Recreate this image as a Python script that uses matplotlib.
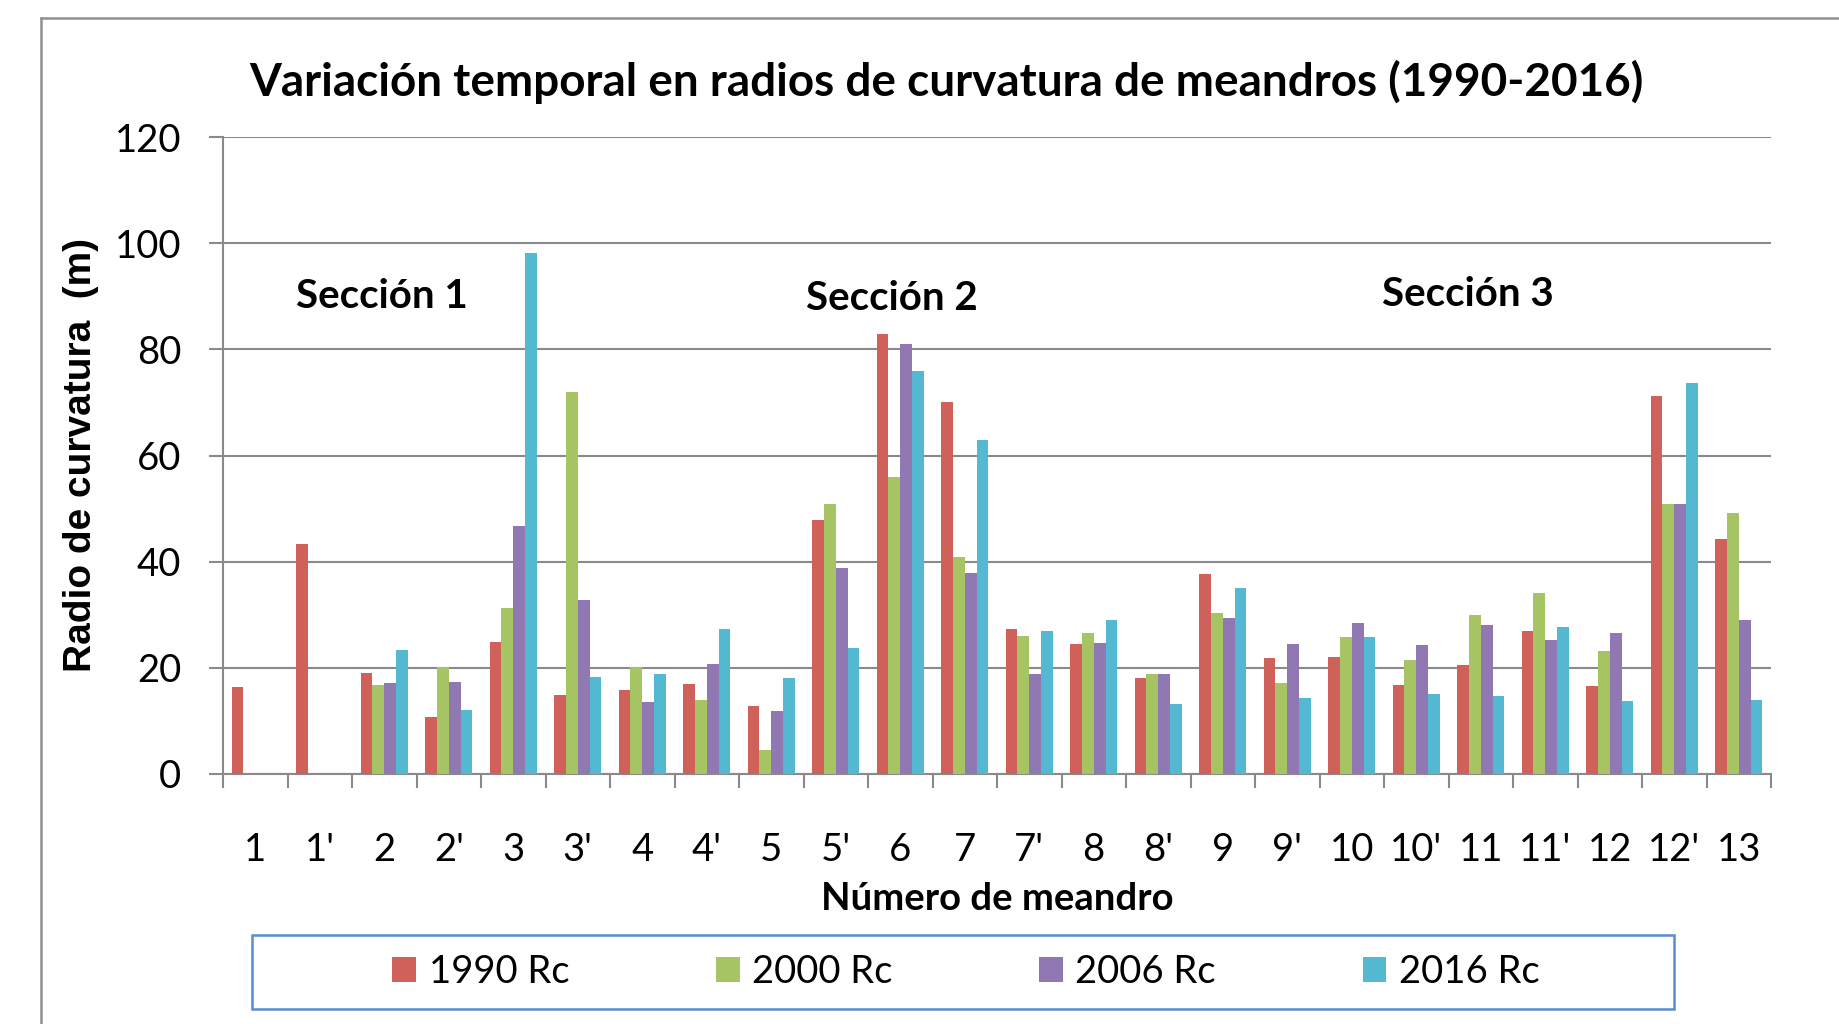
import numpy as np
import matplotlib
matplotlib.use("Agg")
import matplotlib.pyplot as plt
from matplotlib.lines import Line2D
from matplotlib.patches import Rectangle, Patch

plt.rcParams['font.family'] = ['Lato', 'DejaVu Sans']

categories = ['1', "1'", '2', "2'", '3', "3'", '4', "4'", '5', "5'", '6', '7', "7'",
              '8', "8'", '9', "9'", '10', "10'", '11', "11'", '12', "12'", '13']
nan = np.nan
rc1990 = [16.3, 43.4, 19.0, 10.7, 24.9, 14.8, 15.8, 16.9, 12.8, 47.9, 82.9, 70.1, 27.4,
          24.4, 18.1, 37.6, 21.9, 22.1, 16.8, 20.6, 26.9, 16.5, 71.3, 44.3]
rc2000 = [nan, nan, 16.7, 20.2, 31.2, 71.9, 20.2, 14.0, 4.5, 50.9, 55.9, 40.9, 26.0,
          26.6, 18.9, 30.4, 17.2, 25.9, 21.4, 29.9, 34.1, 23.2, 50.9, 49.2]
rc2006 = [nan, nan, 17.2, 17.4, 46.7, 32.7, 13.5, 20.8, 11.8, 38.9, 81.0, 37.8, 18.9,
          24.6, 18.9, 29.4, 24.4, 28.5, 24.3, 28.1, 25.3, 26.5, 50.9, 29.0]
rc2016 = [nan, nan, 23.4, 12.1, 98.1, 18.3, 18.9, 27.3, 18.1, 23.8, 76.0, 62.9, 26.9,
          29.1, 13.1, 35.1, 14.4, 25.9, 15.1, 14.6, 27.7, 13.7, 73.6, 14.0]
series_names = ['1990 Rc', '2000 Rc', '2006 Rc', '2016 Rc']
series_values = [rc1990, rc2000, rc2006, rc2016]
colors = ['#D0605A', '#A6C463', '#9079B3', '#55B8D2']
yticks = [0, 20, 40, 60, 80, 100, 120]
sections = ['Sección 1', 'Sección 2', 'Sección 3']
section_pos = [(1.97, 90), (9.87, 89.5), (18.8, 90.3)]

W, H = 1839, 1024
fig = plt.figure(figsize=(W / 100, H / 100), dpi=100)
ax = fig.add_axes([223 / W, 1 - 774 / H, (1771 - 223) / W, (774 - 137) / H])

grid_c = '#8a8a8a'
n = len(categories)
x = np.arange(n)
bw = 0.183
for i, (name, vals, c) in enumerate(zip(series_names, series_values, colors)):
    ax.bar(x + (i - 1.5) * bw, vals, width=bw, color=c, label=name, zorder=3)

ax.set_xlim(-0.5, n - 0.5)
ax.set_ylim(0, 120)
ax.set_yticks(yticks)
ax.set_yticklabels([str(v) for v in yticks])
ax.yaxis.grid(True, color=grid_c, linewidth=1.5, zorder=0)
ax.set_axisbelow(True)
for s in ['top', 'right']:
    ax.spines[s].set_visible(False)
for s in ['left', 'bottom']:
    ax.spines[s].set_color(grid_c)
    ax.spines[s].set_linewidth(1.5)

ax.set_xticks(np.arange(-0.5, n, 1.0))
ax.set_xticklabels([])
ax.set_xticks(x, minor=True)
ax.set_xticklabels(categories, minor=True)
ax.tick_params(axis='x', which='major', length=10, width=1.5, color=grid_c)
ax.tick_params(axis='x', which='minor', length=0, pad=42, labelsize=27.5)
ax.tick_params(axis='y', length=10, width=1.5, color=grid_c, pad=20, labelsize=27.5)

ax.set_xlabel('Número de meandro', fontsize=27.5, fontweight='bold', labelpad=10)
ax.set_ylabel('Radio de curvatura  (m)', fontsize=28, fontweight='bold',
              family=['Liberation Sans', 'DejaVu Sans'])
ax.yaxis.set_label_coords((99 - 223) / (1771 - 223), 0.5)

for txt, (sx, sy) in zip(sections, section_pos):
    ax.text(sx, sy, txt, ha='center', va='center', fontsize=29, fontweight='bold')

fig.text(946 / W, 1 - 82 / H, 'Variación temporal en radios de curvatura de meandros (1990-2016)',
         ha='center', va='center', fontsize=33, fontweight='bold')

# legend box
fig.patches.append(Rectangle((252 / W, 1 - 1009 / H), (1674 - 252) / W, (1009 - 935) / H,
                             transform=fig.transFigure, fill=False, edgecolor='#5B8BD0',
                             linewidth=1.8))
handles = [Patch(facecolor=c, edgecolor='none') for c in colors]
fig.legend(handles, series_names, loc='center', bbox_to_anchor=(966 / W, 1 - 972 / H),
           ncol=4, frameon=False, fontsize=27.5, handlelength=0.62, handleheight=0.62,
           handletextpad=0.33, columnspacing=3.84)

# outer chart border (partially visible)
fig.add_artist(Line2D([41 / W, 1.0], [1 - 18 / H, 1 - 18 / H], transform=fig.transFigure,
                      color='#909090', linewidth=1.8))
fig.add_artist(Line2D([41 / W, 41 / W], [1 - 18 / H, 0.0], transform=fig.transFigure,
                      color='#909090', linewidth=1.8))

fig.savefig('out.png', dpi=100)
